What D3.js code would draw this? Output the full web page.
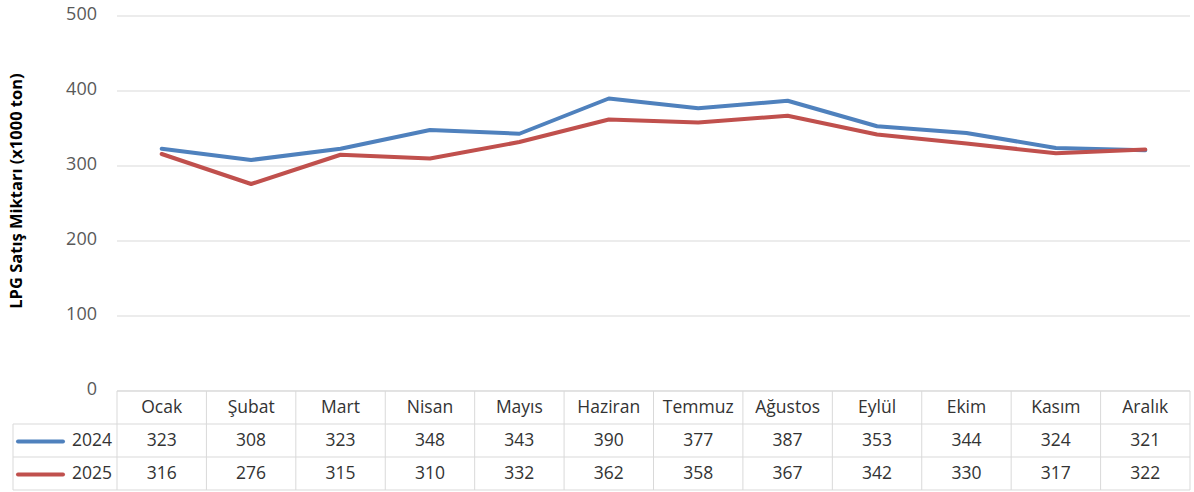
<!DOCTYPE html>
<html>
<head>
<meta charset="utf-8">
<script src="https://cdn.jsdelivr.net/npm/d3@7"></script>
<style>
  body { margin: 0; background: #fff; }
  svg { display: block; font-family: "Open Sans", "Noto Sans", sans-serif; }
</style>
</head>
<body>
<svg width="1194" height="492"></svg>
<script>
var months = ["Ocak", "Şubat", "Mart", "Nisan", "Mayıs", "Haziran", "Temmuz", "Ağustos", "Eylül", "Ekim", "Kasım", "Aralık"];
var values2024 = [323, 308, 323, 348, 343, 390, 377, 387, 353, 344, 324, 321];
var values2025 = [316, 276, 315, 310, 332, 362, 358, 367, 342, 330, 317, 322];
var yTicks = [0, 100, 200, 300, 400, 500];

var series = [
    { name: "2024", values: values2024, color: "#4F81BD" },
    { name: "2025", values: values2025, color: "#C0504D" }
];

var svg = d3.select("svg");
var plotLeft = 117, plotRight = 1190, plotTop = 16, plotBottom = 391;
var rowH = 33, legendLeft = 13;
var textColor = "#333";

var x = d3.scaleBand().domain(months).range([plotLeft, plotRight]);
var y = d3.scaleLinear().domain([0, 500]).range([plotBottom, plotTop]);

// gridlines
svg.append("g")
    .selectAll("line")
    .data(yTicks)
    .enter().append("line")
    .attr("x1", plotLeft).attr("x2", plotRight)
    .attr("y1", d => y(d)).attr("y2", d => y(d))
    .attr("stroke", "#d9d9d9").attr("stroke-width", 1);

// y tick labels
svg.append("g")
    .selectAll("text")
    .data(yTicks)
    .enter().append("text")
    .attr("x", 97)
    .attr("y", d => y(d) - 1)
    .attr("text-anchor", "end")
    .attr("dominant-baseline", "middle")
    .attr("fill", "#595959")
    .style("font-size", "18px")
    .text(d => d);

// y axis title
svg.append("text")
    .attr("transform", "translate(18,191) rotate(-90)")
    .attr("text-anchor", "middle")
    .attr("dominant-baseline", "middle")
    .attr("fill", "#000")
    .style("font-size", "16.5px")
    .style("font-weight", "bold")
    .text("LPG Satış Miktarı (x1000 ton)");

// lines
var line = d3.line()
    .x((d, i) => x(months[i]) + x.bandwidth() / 2)
    .y(d => y(d));

svg.append("g")
    .selectAll("path")
    .data(series)
    .enter().append("path")
    .attr("d", d => line(d.values))
    .attr("fill", "none")
    .attr("stroke", d => d.color)
    .attr("stroke-width", 4)
    .attr("stroke-linejoin", "round")
    .attr("stroke-linecap", "round");

// data table
var table = svg.append("g");
var tableColor = "#d9d9d9";

[0, 1, 2, 3].forEach(r => {
    table.append("line")
        .attr("x1", r === 0 ? plotLeft : legendLeft).attr("x2", plotRight)
        .attr("y1", plotBottom + r * rowH).attr("y2", plotBottom + r * rowH)
        .attr("stroke", tableColor);
});
d3.range(months.length + 1).forEach(i => {
    var xx = plotLeft + i * x.bandwidth();
    table.append("line")
        .attr("x1", xx).attr("x2", xx)
        .attr("y1", plotBottom).attr("y2", plotBottom + 3 * rowH)
        .attr("stroke", tableColor);
});
table.append("line")
    .attr("x1", legendLeft).attr("x2", legendLeft)
    .attr("y1", plotBottom + rowH).attr("y2", plotBottom + 3 * rowH)
    .attr("stroke", tableColor);

// header
table.selectAll("text.month")
    .data(months)
    .enter().append("text")
    .attr("class", "month")
    .attr("x", d => x(d) + x.bandwidth() / 2)
    .attr("y", plotBottom + rowH / 2 + 1)
    .attr("text-anchor", "middle")
    .attr("dominant-baseline", "middle")
    .attr("fill", textColor)
    .style("font-size", "17.5px")
    .text(d => d);

series.forEach((s, r) => {
    var cy = plotBottom + (r + 1) * rowH + rowH / 2 + 1;
    table.append("line")
        .attr("x1", 18).attr("x2", 63)
        .attr("y1", cy).attr("y2", cy)
        .attr("stroke", s.color).attr("stroke-width", 4)
        .attr("stroke-linecap", "round");
    table.append("text")
        .attr("x", 112).attr("y", cy)
        .attr("text-anchor", "end")
        .attr("dominant-baseline", "middle")
        .attr("fill", textColor)
        .style("font-size", "17.5px")
        .text(s.name);
    table.selectAll("text.v" + r)
        .data(s.values)
        .enter().append("text")
        .attr("class", "v" + r)
        .attr("x", (d, i) => x(months[i]) + x.bandwidth() / 2)
        .attr("y", cy)
        .attr("text-anchor", "middle")
        .attr("dominant-baseline", "middle")
        .attr("fill", textColor)
        .style("font-size", "17.5px")
        .text(d => d);
});
</script>
</body>
</html>
